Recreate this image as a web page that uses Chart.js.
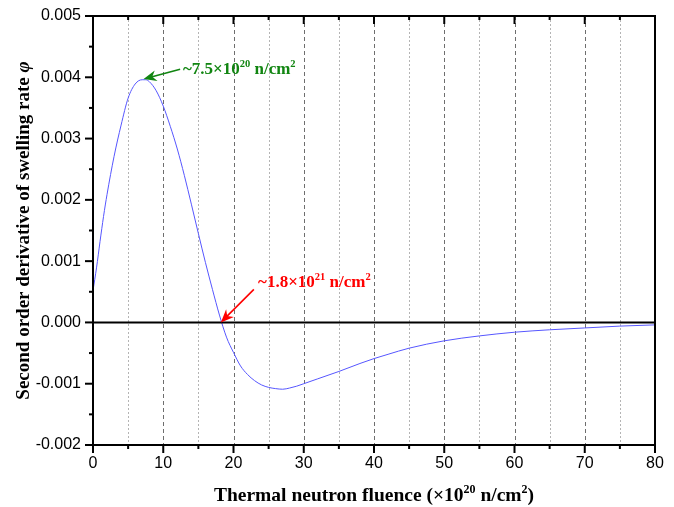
<!DOCTYPE html>
<html>
<head>
<meta charset="utf-8">
<script src="https://cdn.jsdelivr.net/npm/chart.js@4.4.1/dist/chart.umd.min.js"></script>
<style>
  html, body { margin: 0; padding: 0; background: #fff; }
  #wrap { width: 674px; height: 507px; }
</style>
</head>
<body>
<div id="wrap"><canvas id="grafico" width="674" height="507"></canvas></div>
<script>
// fluence (x10^20 n/cm^2) and second order derivative of swelling rate
const fluencia = [0, 0.5, 1, 1.5, 2, 3, 4, 5, 6, 7, 7.5, 8, 9, 10, 11, 12, 13, 14, 15, 16, 17, 18, 19, 20,
                  21, 22, 23, 24, 25, 26, 27, 28, 29, 30, 32, 35, 38, 40, 42, 45, 50, 55, 60, 65, 70, 75, 80];
const phi = [0.00052, 0.00089, 0.00132, 0.00173, 0.00209, 0.00271, 0.00322, 0.00366, 0.00389, 0.00396, 0.00396,
             0.00393, 0.00378, 0.00353, 0.00320, 0.00283, 0.00240, 0.00193, 0.00145, 0.00098, 0.00054, 0.00012,
             -0.00024, -0.00049, -0.00071, -0.00085, -0.00095, -0.00102, -0.00106, -0.00108, -0.00109, -0.00107,
             -0.00104, -0.00100, -0.00092, -0.00080, -0.00067, -0.00059, -0.00052, -0.00042, -0.00030, -0.00022,
             -0.00016, -0.00012, -0.00009, -0.00006, -0.00004];

const xTicks = [0, 10, 20, 30, 40, 50, 60, 70, 80];
const yTicks = [-0.002, -0.001, 0, 0.001, 0.002, 0.003, 0.004, 0.005];

// marked points: [tip x, tip y, tail x, tail y, text x, text y]
const picoMarca = [7.2, 0.00397, 12.4, 0.00413, 12.8, 0.00405];
const zeroMarca = [18.2, 0.0, 22.9, 0.00054, 23.5, 0.00057];

const serif = '"Liberation Serif", "Times New Roman", serif';

// draws a list of text pieces one after another; returns total width
function textoRico(ctx, partes, x, y, medir) {
    let w = 0;
    partes.forEach(p => {
        ctx.font = p.f;
        if (!medir) ctx.fillText(p.t, x + w, y + (p.dy || 0));
        w += ctx.measureText(p.t).width;
    });
    return w;
}

function seta(ctx, x0, y0, x1, y1, cor) {
    const ang = Math.atan2(y1 - y0, x1 - x0);
    const len = 13, larg = 5.5;
    ctx.save();
    ctx.strokeStyle = cor;
    ctx.fillStyle = cor;
    ctx.lineWidth = 1.6;
    ctx.beginPath();
    ctx.moveTo(x0, y0);
    ctx.lineTo(x1 - Math.cos(ang) * 6, y1 - Math.sin(ang) * 6);
    ctx.stroke();
    ctx.translate(x1, y1);
    ctx.rotate(ang);
    ctx.beginPath();
    ctx.moveTo(0, 0);
    ctx.lineTo(-len, -larg);
    ctx.lineTo(-len + 4, 0);
    ctx.lineTo(-len, larg);
    ctx.closePath();
    ctx.fill();
    ctx.restore();
}

function rotuloFluencia(ctx, txt, expo, x, y, cor) {
    const b = 'bold 17px ' + serif, s = 'bold 10.5px ' + serif;
    ctx.fillStyle = cor;
    ctx.textBaseline = 'alphabetic';
    textoRico(ctx, [
        { t: txt, f: b }, { t: expo, f: s, dy: -7 }, { t: ' n/cm', f: b }, { t: '2', f: s, dy: -7 }
    ], x, y);
}

const eixosPlugin = {
    id: 'eixos',
    beforeDatasetsDraw(chart) {
        const { ctx, chartArea: a, scales: { x, y } } = chart;
        ctx.save();
        ctx.lineWidth = 1;
        for (let v = 5; v < 80; v += 5) {
            const px = Math.round(x.getPixelForValue(v)) + 0.5;
            const maior = v % 10 === 0;
            ctx.strokeStyle = maior ? '#6e6e6e' : '#b4b4b4';
            ctx.setLineDash(maior ? [4, 3] : [2, 2]);
            ctx.beginPath();
            ctx.moveTo(px, a.top);
            ctx.lineTo(px, a.bottom);
            ctx.stroke();
        }
        ctx.restore();
    },
    afterDatasetsDraw(chart) {
        const { ctx, chartArea: a, scales: { x, y } } = chart;
        ctx.save();
        ctx.strokeStyle = '#000';
        ctx.lineWidth = 2;
        // zero line
        const y0 = y.getPixelForValue(0);
        ctx.beginPath();
        ctx.moveTo(a.left, y0);
        ctx.lineTo(a.right, y0);
        ctx.stroke();
        // frame
        ctx.strokeRect(a.left, a.top, a.right - a.left, a.bottom - a.top);
        // ticks: bottom outward, top inward
        for (let v = 0; v <= 80; v += 5) {
            const px = x.getPixelForValue(v);
            const t = v % 10 === 0 ? 8 : 4;
            ctx.beginPath();
            ctx.moveTo(px, a.bottom);
            ctx.lineTo(px, a.bottom + t);
            ctx.moveTo(px, a.top);
            ctx.lineTo(px, a.top + t);
            ctx.stroke();
        }
        // left ticks outward
        for (let k = -4; k <= 10; k++) {
            const py = y.getPixelForValue(k * 0.0005);
            const t = k % 2 === 0 ? 8 : 4;
            ctx.beginPath();
            ctx.moveTo(a.left, py);
            ctx.lineTo(a.left - t, py);
            ctx.stroke();
        }
        ctx.restore();

        // annotations
        const p = picoMarca, z = zeroMarca;
        seta(ctx, x.getPixelForValue(p[2]), y.getPixelForValue(p[3]), x.getPixelForValue(p[0]), y.getPixelForValue(p[1]), '#118511');
        seta(ctx, x.getPixelForValue(z[2]), y.getPixelForValue(z[3]), x.getPixelForValue(z[0]), y.getPixelForValue(z[1]), '#ff0000');
        ctx.save();
        rotuloFluencia(ctx, '~7.5×10', '20', x.getPixelForValue(p[4]), y.getPixelForValue(p[5]), '#118511');
        rotuloFluencia(ctx, '~1.8×10', '21', x.getPixelForValue(z[4]), y.getPixelForValue(z[5]), '#ff0000');
        ctx.restore();
    },
    afterDraw(chart) {
        const { ctx, chartArea: a } = chart;
        const b = 'bold 19.5px ' + serif, s = 'bold 12px ' + serif;
        ctx.save();
        ctx.fillStyle = '#000';
        ctx.textBaseline = 'alphabetic';
        // x title
        const xt = [
            { t: 'Thermal neutron fluence (×10', f: b }, { t: '20', f: s, dy: -8 },
            { t: ' n/cm', f: b }, { t: '2', f: s, dy: -8 }, { t: ')', f: b }
        ];
        const wx = textoRico(ctx, xt, 0, 0, true);
        textoRico(ctx, xt, (a.left + a.right) / 2 - wx / 2, 501, false);
        // y title
        const by = 'bold 19px ' + serif;
        const yt = [
            { t: 'Second order derivative of swelling rate ', f: by },
            { t: 'φ', f: 'bold italic 19px ' + serif }
        ];
        const wy = textoRico(ctx, yt, 0, 0, true);
        ctx.translate(29, (a.top + a.bottom) / 2);
        ctx.rotate(-Math.PI / 2);
        textoRico(ctx, yt, -wy / 2, 0, false);
        ctx.restore();
    }
};

function inicializar() {
    const ctx = document.getElementById('grafico').getContext('2d');
    new Chart(ctx, {
        type: 'scatter',
        data: {
            datasets: [{
                data: fluencia.map((f, i) => ({ x: f, y: phi[i] })),
                showLine: true,
                borderColor: '#5656ff',
                borderWidth: 1,
                pointRadius: 0,
                cubicInterpolationMode: 'monotone'
            }]
        },
        options: {
            responsive: false,
            animation: false,
            layout: { padding: { top: 16, right: 19, left: 0, bottom: 0 } },
            plugins: { legend: { display: false }, tooltip: { enabled: false } },
            scales: {
                x: {
                    type: 'linear',
                    min: 0, max: 80,
                    afterBuildTicks: s => { s.ticks = xTicks.map(v => ({ value: v })); },
                    afterFit: s => { s.height = 62; },
                    grid: { display: false, drawTicks: false },
                    border: { display: false },
                    ticks: { color: '#000', padding: 9, maxRotation: 0, font: { family: '"Liberation Sans", Arial', size: 16 } }
                },
                y: {
                    min: -0.002, max: 0.005,
                    afterBuildTicks: s => { s.ticks = yTicks.map(v => ({ value: v })); },
                    // fixed axis width; label overhang must not push the plot down
                    afterFit: s => { s.width = 93; s.paddingTop = 0; s.paddingBottom = 0; },
                    grid: { display: false, drawTicks: false },
                    border: { display: false },
                    ticks: {
                        color: '#000', padding: 12,
                        font: { family: '"Liberation Sans", Arial', size: 16 },
                        callback: v => (Math.abs(v) < 1e-9 ? 0 : v).toFixed(3)
                    }
                }
            }
        },
        plugins: [eixosPlugin]
    });
}

window.onload = inicializar;
</script>
</body>
</html>
